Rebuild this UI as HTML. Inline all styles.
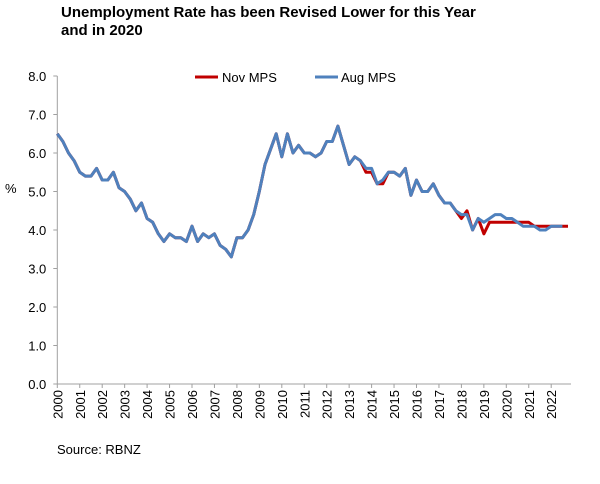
<!DOCTYPE html>
<html><head><meta charset="utf-8"><style>
body{margin:0;background:#fff;}
svg{display:block;font-family:"Liberation Sans",Arial,sans-serif;}
</style></head><body>
<svg id="chart" width="600" height="484">
<text x="61" y="17" font-size="15" font-weight="bold" fill="#000">Unemployment Rate has been Revised Lower for this Year</text>
<text x="61" y="35" font-size="15" font-weight="bold" fill="#000">and in 2020</text>
<text x="5" y="193" font-size="13" fill="#000">%</text>
<g>
<line x1="195" y1="77" x2="218" y2="77" stroke="#c00000" stroke-width="3"/>
<text x="222" y="82" font-size="13">Nov MPS</text>
<line x1="315" y1="77" x2="338" y2="77" stroke="#4f81bd" stroke-width="3"/>
<text x="341" y="82" font-size="13">Aug MPS</text>
</g>
<g id="axes"></g>
<g id="series"></g>
<text x="57" y="454" font-size="13">Source: RBNZ</text>
</svg>
<script>
const yTicks=[0,1,2,3,4,5,6,7,8];
const years=[2000,2001,2002,2003,2004,2005,2006,2007,2008,2009,2010,2011,2012,2013,2014,2015,2016,2017,2018,2019,2020,2021,2022];
const augMPS=[6.5,6.3,6.0,5.8,5.5,5.4,5.4,5.6,5.3,5.3,5.5,5.1,5.0,4.8,4.5,4.7,4.3,4.2,3.9,3.7,3.9,3.8,3.8,3.7,4.1,3.7,3.9,3.8,3.9,3.6,3.5,3.3,3.8,3.8,4.0,4.4,5.0,5.7,6.1,6.5,5.9,6.5,6.0,6.2,6.0,6.0,5.9,6.0,6.3,6.3,6.7,6.2,5.7,5.9,5.8,5.6,5.6,5.2,5.3,5.5,5.5,5.4,5.6,4.9,5.3,5.0,5.0,5.2,4.9,4.7,4.7,4.5,4.4,4.4,4.0,4.3,4.2,4.3,4.4,4.4,4.3,4.3,4.2,4.1,4.1,4.1,4.0,4.0,4.1,4.1,4.1];
const novMPS=[6.5,6.3,6.0,5.8,5.5,5.4,5.4,5.6,5.3,5.3,5.5,5.1,5.0,4.8,4.5,4.7,4.3,4.2,3.9,3.7,3.9,3.8,3.8,3.7,4.1,3.7,3.9,3.8,3.9,3.6,3.5,3.3,3.8,3.8,4.0,4.4,5.0,5.7,6.1,6.5,5.9,6.5,6.0,6.2,6.0,6.0,5.9,6.0,6.3,6.3,6.7,6.2,5.7,5.9,5.8,5.5,5.5,5.2,5.2,5.5,5.5,5.4,5.6,4.9,5.3,5.0,5.0,5.2,4.9,4.7,4.7,4.5,4.3,4.5,4.0,4.3,3.9,4.2,4.2,4.2,4.2,4.2,4.2,4.2,4.2,4.1,4.1,4.1,4.1,4.1,4.1,4.1];
const X0=57.3,YEARW=22.45,Y0=384,PXU=38.5;
const xq=i=>X0+i*YEARW/4;
const xy=y=>X0+(y-2000)*YEARW;
const yv=v=>Y0-v*PXU;
const NS='http://www.w3.org/2000/svg';
const axes=document.getElementById('axes'),series=document.getElementById('series');
function mk(tag,attrs,parent){const e=document.createElementNS(NS,tag);for(const k in attrs)e.setAttribute(k,attrs[k]);parent.appendChild(e);return e;}
let el=mk('line',{x1:X0,y1:yv(8),x2:X0,y2:Y0,stroke:'#a0a0a0'},axes);


el=mk('line',{x1:X0,y1:Y0,x2:571,y2:Y0,stroke:'#a0a0a0'},axes);


yTicks.forEach(t=>{
 let l=mk('line',{x1:X0-4,y1:yv(t),x2:X0,y2:yv(t),stroke:'#a0a0a0'},axes);
 
 
 let tx=mk('text',{x:X0-11,y:yv(t)+5,'font-size':13,'text-anchor':'end',fill:'#000'},axes);
 tx.textContent=t.toFixed(1);
 
 
});
years.forEach(yr=>{
 const x=xy(yr);
 let l=mk('line',{x1:x,y1:Y0,x2:x,y2:Y0+4,stroke:'#a0a0a0'},axes);
 
 
 let tx=mk('text',{x:0,y:0,'font-size':13,'text-anchor':'end',transform:`translate(${x+5},${Y0+6}) rotate(-90)`},axes);
 tx.textContent=yr;
 
 
});
function path(vals,color,name){
 const d=vals.map((v,i)=>(i?'L':'M')+xq(i).toFixed(1)+','+yv(v).toFixed(1)).join('');
 const p=mk('path',{d:d,fill:'none',stroke:color,'stroke-width':3,'stroke-linejoin':'round'},series);
 
 
}
path(novMPS,'#c00000','nov-mps-line');
path(augMPS,'#4f81bd','aug-mps-line');
</script>
</body></html>
